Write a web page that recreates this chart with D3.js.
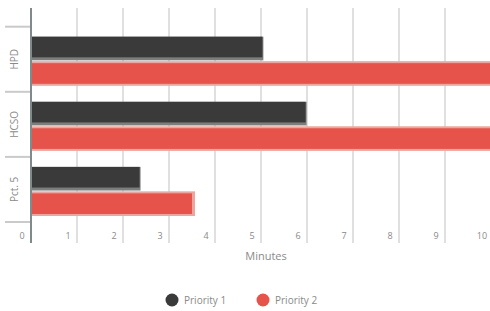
<!DOCTYPE html>
<html>
<head>
<meta charset="utf-8">
<script src="https://cdnjs.cloudflare.com/ajax/libs/d3/7.8.5/d3.min.js"></script>
<style>
  body { margin: 0; background: #fff; }
  text { font-family: "Open Sans", sans-serif; fill: #8a8a8a; }
</style>
</head>
<body>
<script>
var width = 490,
    height = 311;

// data
var categories = ["HPD", "HCSO", "Pct. 5"];
var priority1 = [5.03, 5.97, 2.36];
var priority2 = [10.5, 10.5, 3.5];
var seriesNames = ["Priority 1", "Priority 2"];
var xTicks = [0, 1, 2, 3, 4, 5, 6, 7, 8, 9, 10];

var colors = ["#3a3a3a", "#e5534b"];
var borders = ["#7d7d7d", "#eba6a1"];

var svg = d3.select("body").append("svg")
    .attr("width", width)
    .attr("height", height);

var x = d3.scaleLinear().domain([0, 10]).range([31, 491]);

var y = d3.scaleBand().domain(categories).range([26.7, 222]);

var sub = d3.scaleBand().domain([0, 1]).range([10, y.bandwidth() - 8]).paddingInner(0.22);

var plotTop = 8, plotBottom = 243;

// grid lines
svg.selectAll(".grid")
  .data(xTicks.slice(1))
  .enter().append("line")
    .attr("x1", d => x(d)).attr("x2", d => x(d))
    .attr("y1", plotTop).attr("y2", plotBottom)
    .attr("stroke", "#e0e0e0")
    .attr("stroke-width", 2);

// category ticks
var bounds = categories.map(c => y(c)).concat([y.range()[1]]);
svg.selectAll(".ctick")
  .data(bounds)
  .enter().append("line")
    .attr("x1", 5).attr("x2", 31)
    .attr("y1", d => d).attr("y2", d => d)
    .attr("stroke", "#cacaca")
    .attr("stroke-width", 2);

// bars
var rows = [];
categories.forEach(function(c, i) {
  rows.push({ cat: c, s: 0, v: priority1[i] });
  rows.push({ cat: c, s: 1, v: priority2[i] });
});

// shadow / border behind each bar
svg.selectAll(".barback")
  .data(rows)
  .enter().append("rect")
    .attr("x", x(0) + 1)
    .attr("y", d => y(d.cat) + sub(d.s) - (d.s ? 2 : 0))
    .attr("width", d => x(d.v) - x(0) + (d.s ? 2 : 0))
    .attr("height", d => sub.bandwidth() + (d.s ? 4 : 3))
    .attr("fill", d => borders[d.s]);

svg.selectAll(".bar")
  .data(rows)
  .enter().append("rect")
    .attr("x", x(0) + 1)
    .attr("y", d => y(d.cat) + sub(d.s))
    .attr("width", d => x(d.v) - x(0) - 1)
    .attr("height", sub.bandwidth())
    .attr("fill", d => colors[d.s]);

// axis line
svg.append("line")
  .attr("x1", 31).attr("x2", 31)
  .attr("y1", plotTop).attr("y2", plotBottom)
  .attr("stroke", "#7f8a8a")
  .attr("stroke-width", 2);

// category labels
svg.selectAll(".clabel")
  .data(categories)
  .enter().append("text")
    .attr("transform", d => "translate(18," + (y(d) + y.bandwidth() / 2) + ") rotate(-90)")
    .attr("text-anchor", "middle")
    .style("font-size", "10px")
    .text(d => d);

// x tick labels
svg.selectAll(".xlabel")
  .data(xTicks)
  .enter().append("text")
    .attr("x", d => x(d) - 9)
    .attr("y", 239)
    .attr("text-anchor", "middle")
    .style("font-size", "9px")
    .text(d => d);

svg.append("text")
  .attr("x", 266)
  .attr("y", 260)
  .attr("text-anchor", "middle")
  .style("font-size", "11px")
  .text("Minutes");

// legend
var legend = svg.selectAll(".legend")
  .data(seriesNames)
  .enter().append("g")
    .attr("transform", (d, i) => "translate(" + (172 + i * 91) + ",300)");

legend.append("circle")
  .attr("r", 6.5)
  .attr("fill", (d, i) => colors[i]);

legend.append("text")
  .attr("x", 12)
  .attr("y", 3.5)
  .style("font-size", "10px")
  .text(d => d);
</script>
</body>
</html>
